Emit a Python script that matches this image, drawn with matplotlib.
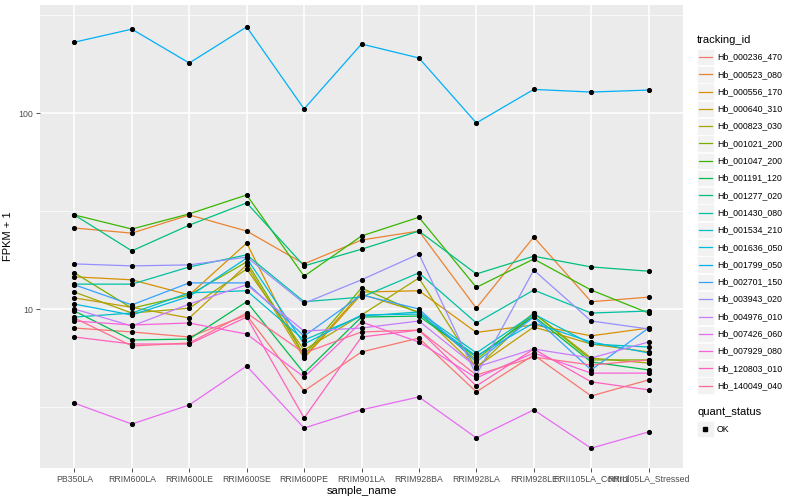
import matplotlib
matplotlib.use("Agg")
import matplotlib.pyplot as plt
from matplotlib.lines import Line2D
from matplotlib.patches import Rectangle

plt.rcParams['font.family'] = ['Liberation Sans', 'DejaVu Sans']

# x categories
samples = ['PB350LA', 'RRIM600LA', 'RRIM600LE', 'RRIM600SE', 'RRIM600PE', 'RRIM901LA',
           'RRIM928BA', 'RRIM928LA', 'RRIM928LE', 'RRII105LA_Control', 'RRII105LA_Stressed']

tracking_ids = ['Hb_000236_470', 'Hb_000523_080', 'Hb_000556_170', 'Hb_000640_310',
                'Hb_000823_030', 'Hb_001021_200', 'Hb_001047_200', 'Hb_001191_120',
                'Hb_001277_020', 'Hb_001430_080', 'Hb_001534_210', 'Hb_001636_050',
                'Hb_001799_050', 'Hb_002701_150', 'Hb_003943_020', 'Hb_004976_010',
                'Hb_007426_060', 'Hb_007929_080', 'Hb_120803_010', 'Hb_140049_040']

# ggplot hue palette, 20 levels
colours = ['#F8766D', '#EA8331', '#D89000', '#C09B00', '#A3A500', '#7CAE00', '#39B600',
           '#00BB4E', '#00BF7D', '#00C1A3', '#00BFC4', '#00BAE0', '#00B0F6', '#35A2FF',
           '#9590FF', '#C77CFF', '#E76BF3', '#FA62DB', '#FF62BC', '#FF6C91']

# FPKM + 1, one list per gene, in sample order
hb_000236_470 = [8.0, 7.64, 7.2, 9.3, 3.82, 6.04, 7.11, 3.78, 5.83, 3.6, 4.35]
hb_000523_080 = [25.9, 24.4, 30.2, 25.0, 17.0, 22.5, 25.0, 10.1, 23.3, 10.9, 11.5]
hb_000556_170 = [14.6, 14.1, 11.8, 21.7, 5.69, 12.2, 12.4, 7.6, 8.3, 7.3, 8.0]
hb_000640_310 = [11.4, 10.2, 9.0, 16.8, 5.62, 11.9, 9.66, 5.06, 8.1, 6.63, 6.04]
hb_000823_030 = [12.2, 9.54, 10.1, 16.0, 6.18, 9.32, 14.4, 5.0, 9.54, 5.62, 5.3]
hb_001021_200 = [15.3, 10.1, 11.8, 17.4, 5.83, 12.8, 9.54, 5.5, 9.54, 5.5, 5.5]
hb_001047_200 = [30.2, 25.6, 30.6, 38.2, 14.7, 23.6, 29.4, 12.9, 18.0, 12.5, 9.54]
hb_001191_120 = [9.77, 6.95, 7.03, 10.9, 4.71, 9.1, 9.21, 5.69, 9.21, 5.37, 4.89]
hb_001277_020 = [30.2, 19.8, 26.8, 34.8, 16.6, 20.2, 25.0, 15.1, 18.6, 16.4, 15.6]
hb_001430_080 = [13.4, 13.4, 16.4, 18.9, 10.9, 11.5, 15.3, 8.49, 12.5, 9.54, 9.77]
hb_001534_210 = [9.1, 9.54, 12.1, 12.4, 6.95, 9.21, 9.66, 5.97, 9.43, 6.63, 6.4]
hb_001636_050 = [10.6, 9.32, 11.6, 18.2, 6.63, 9.32, 9.43, 5.76, 8.49, 6.79, 5.97]
hb_001799_050 = [230, 268, 180, 275, 105, 225, 191, 89, 132, 128, 131]
hb_002701_150 = [13.3, 10.5, 13.6, 13.6, 7.28, 11.8, 10.0, 5.37, 9.1, 4.89, 8.0]
hb_003943_020 = [17.0, 16.6, 16.8, 18.4, 10.7, 14.1, 19.1, 4.6, 15.8, 8.69, 7.91]
hb_004976_010 = [10.0, 8.19, 10.6, 13.3, 7.72, 8.0, 8.69, 5.06, 6.25, 5.62, 6.79]
hb_007426_060 = [3.31, 2.59, 3.24, 5.12, 2.47, 3.06, 3.56, 2.2, 3.06, 1.95, 2.36]
hb_007929_080 = [8.69, 8.29, 8.49, 7.45, 4.5, 8.59, 6.79, 4.45, 5.97, 4.71, 4.71]
hb_120803_010 = [7.2, 6.63, 6.63, 9.1, 2.78, 7.2, 7.81, 4.05, 6.25, 4.25, 3.87]
hb_140049_040 = [9.0, 6.48, 6.71, 9.54, 5.97, 7.64, 7.81, 4.6, 5.69, 5.18, 5.5]

series = [hb_000236_470, hb_000523_080, hb_000556_170, hb_000640_310, hb_000823_030,
          hb_001021_200, hb_001047_200, hb_001191_120, hb_001277_020, hb_001430_080,
          hb_001534_210, hb_001636_050, hb_001799_050, hb_002701_150, hb_003943_020,
          hb_004976_010, hb_007426_060, hb_007929_080, hb_120803_010, hb_140049_040]

W, H = 800, 500
fig = plt.figure(figsize=(8, 5), dpi=100)
ax = fig.add_axes([40 / W, 1 - 468 / H, (683 - 40) / W, (468 - 5) / H])
ax.set_facecolor('#EBEBEB')
for s in ax.spines.values():
    s.set_visible(False)

xs = list(range(len(samples)))
for vals, col in zip(series, colours):
    ax.plot(xs, vals, color=col, lw=0.9, zorder=3)
# points on top of every line
for vals in series:
    ax.plot(xs, vals, ls='none', marker='o', ms=2.7, color='black', zorder=4)

ax.set_yscale('log')
ax.set_ylim(1.545, 355.9)
ax.set_xlim(-0.6, len(samples) - 0.4)
ax.set_yticks([10, 100])
ax.set_yticklabels(['10', '100'])
ax.set_yticks([10 ** 0.5, 10 ** 1.5, 10 ** 2.5], minor=True)
ax.set_yticklabels([], minor=True)
ax.set_xticks(xs)
ax.set_xticklabels(samples)
ax.tick_params(which='major', length=2.8, width=0.6, color='#333333',
               labelcolor='#4D4D4D', labelsize=6.3, pad=2)
ax.tick_params(which='minor', length=0)
ax.grid(which='major', color='white', lw=1.1, zorder=0)
ax.grid(which='minor', axis='y', color='white', lw=0.5, zorder=0)
ax.set_axisbelow(True)
ax.set_xlabel('sample_name', fontsize=8, labelpad=2)
ax.set_ylabel('FPKM + 1', fontsize=8, labelpad=4)

# legend drawn in figure pixels
def fx(px):
    return px / W

def fy(py):
    return 1 - py / H

fig.text(fx(697), fy(40), 'tracking_id', fontsize=8, va='center', ha='left')
for i, (name, col) in enumerate(zip(tracking_ids, colours)):
    yc = 57 + i * 17.3
    fig.add_artist(Rectangle((fx(697), fy(yc + 8.3)), 16.6 / W, 16.6 / H,
                             transform=fig.transFigure, facecolor='#F2F2F2',
                             edgecolor='white', lw=0.5))
    fig.add_artist(Line2D([fx(699), fx(711.5)], [fy(yc), fy(yc)],
                          transform=fig.transFigure, color=col, lw=0.9))
    fig.text(fx(717), fy(yc), name, fontsize=6.3, va='center', ha='left')

fig.text(fx(697), fy(412), 'quant_status', fontsize=8, va='center', ha='left')
fig.add_artist(Rectangle((fx(697), fy(429 + 8.3)), 16.6 / W, 16.6 / H,
                         transform=fig.transFigure, facecolor='#F2F2F2',
                         edgecolor='white', lw=0.5))
fig.add_artist(Line2D([fx(705.3)], [fy(429)], transform=fig.transFigure,
                      ls='none', marker='s', ms=2.5, color='black'))
fig.text(fx(717), fy(429), 'OK', fontsize=6.3, va='center', ha='left')

fig.savefig('out.png', dpi=100)
